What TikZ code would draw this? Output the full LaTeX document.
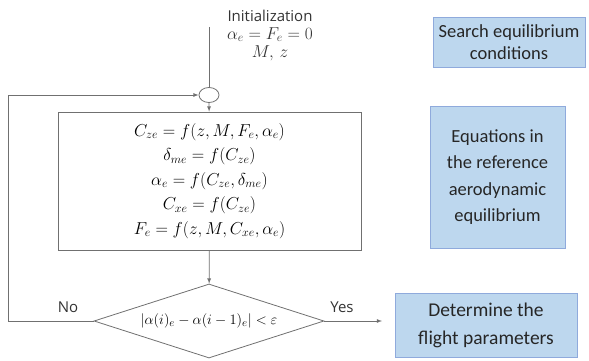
\documentclass[tikz,border=0pt]{standalone}
\usepackage{fontspec}
\setmainfont{Carlito}
\newfontfamily\labelfont{Open Sans}
\usetikzlibrary{calc,shapes.geometric}
\definecolor{noteblue}{HTML}{BDD7EE}
\definecolor{noteedge}{HTML}{8FAADC}
\definecolor{flowgray}{HTML}{707070}
\tikzset{
	flow/.style={draw=flowgray, line width=0.8pt},
	flowarrow/.style={flow, -latex},
	notebox/.style={draw=noteedge, fill=noteblue, line width=0.8pt, align=center, text=black!85, inner sep=0pt},
	flowtext/.style={font=\labelfont\fontsize{15}{17}\selectfont, text=black!80}
}

\begin{document}
\begin{tikzpicture}[x=1pt, y=-1pt]
		%%%%% START %%%%%
		\useasboundingbox (0, 0) rectangle (589, 361);
		
		\node[flowtext, align=center, font=\labelfont\fontsize{17}{18}\selectfont] (init) at (270, 35)
			{{\fontsize{15}{18}\selectfont Initialization}\\ $\alpha_e = F_e = 0$\\ $M,\, z$};
		\coordinate (start) at (209, 27);
		
		\node[flow, ellipse, minimum width=20, minimum height=15, inner sep=0pt] (junc) at (209, 95) {};
		
		\node[flow, minimum width=303, minimum height=138, inner sep=0pt, align=center,
			font=\fontsize{16.5}{24.5}\selectfont] (eqbox) at (209.5, 181) {%
			$C_{ze} = f(z, M, F_e, \alpha_e)$\\
			$\delta_{me} = f(C_{ze})$\\
			$\alpha_e = f(C_{ze}, \delta_{me})$\\
			$C_{xe} = f(C_{ze})$\\
			$F_e = f(z, M, C_{xe}, \alpha_e)$};
		
		\node[flow, diamond, shape aspect=3.1, minimum width=230, minimum height=74, inner sep=0pt,
			font=\fontsize{15.5}{17}\selectfont] (test) at (209, 321)
			{$|\alpha(i)_e - \alpha(i-1)_e| < \varepsilon$};
		
		\coordinate (yesend) at (382, 321);
		\coordinate (loopcorner) at (8, 321);
		
		\draw[flow] (start) -- (junc);
		\draw[flowarrow] (junc) -- (eqbox);
		\draw[flowarrow] (eqbox) -- (test);
		\draw[flowarrow] (test.east) -- (yesend);
		\draw[flowarrow] (test.west) -- (loopcorner) |- (junc.west);
		
		\node[flowtext] (nolabel) at (68, 307) {No};
		\node[flowtext] (yeslabel) at (342, 307) {Yes};
		
		% notes on the right
		\node[notebox, minimum width=152, minimum height=50, font=\fontsize{18.5}{22}\selectfont] (search) at (509, 42)
			{Search equilibrium\\conditions};
		\node[notebox, minimum width=135, minimum height=142, font=\fontsize{18.5}{26.5}\selectfont] (eqnote) at (497.5, 177)
			{Equations in\\the reference\\aerodynamic\\equilibrium};
		\node[notebox, minimum width=182, minimum height=64, font=\fontsize{19.5}{28}\selectfont] (result) at (486, 325)
			{Determine the\\flight parameters};
		
		%%%%% END %%%%%
\end{tikzpicture}
\end{document}
